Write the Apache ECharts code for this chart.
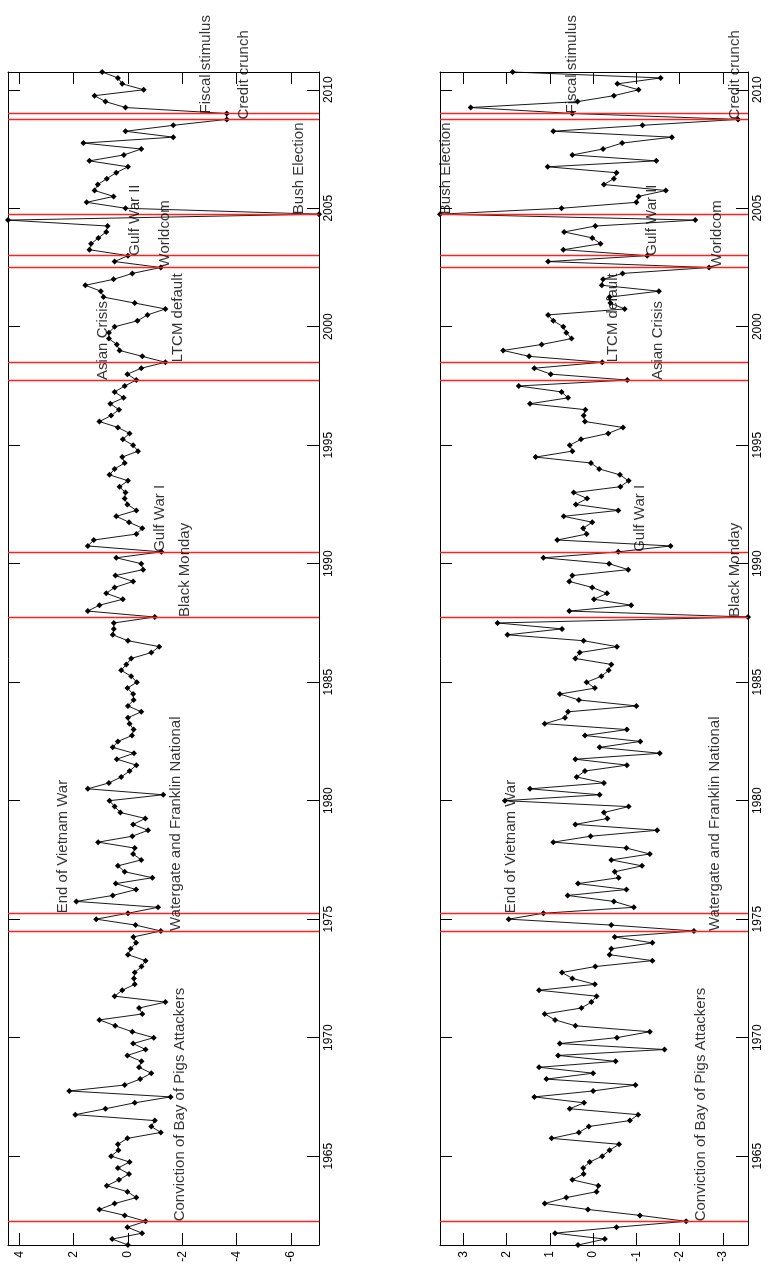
<!DOCTYPE html>
<html>
<head>
<meta charset="utf-8">
<script src="https://cdn.jsdelivr.net/npm/echarts@6/dist/echarts.min.js"></script>
<style>
  html, body { margin: 0; padding: 0; background: #fff; }
  #main { width: 771px; height: 1268px; }
</style>
</head>
<body>
<div id="main"></div>
<script>
// quarterly observations, first one is 1961 Q2
const firstQuarter = 1961.25
const quarterStep = 0.25

// top panel of the original (left here)
const upperValues = [
  0.0, 0.58, -0.52,
  0.02, -0.65, 0.12, 1.05,
  0.49, -0.31, 0.02, 0.78,
  0.33, -0.04, 0.37, -0.06,
  0.62, 0.35, 0.37, 0.02,
  -1.21, -0.86, -0.99, 1.94,
  0.83, -0.25, -1.57, 2.16,
  0.12, -0.45, -0.86, -0.41,
  -0.5, 0.02, -0.65, -0.19,
  -0.95, -0.16, 0.47, 1.05,
  -0.53, -0.41, -1.38, 0.49,
  0.21, -0.25, -0.22, -0.25,
  -0.5, -0.65, 0.0, -0.1,
  -0.3, -0.2, -1.21, -0.28,
  1.17, 0.0, -1.11, 1.9,
  0.56, -0.3, 0.45, -0.9,
  0.12, 0.37, -0.49, -0.19,
  -0.25, 1.1, -0.16, -0.74,
  -0.19, -0.64, 0.28, 0.49,
  0.68, -1.3, 1.48, 0.7,
  0.25, -0.06, -0.31, 0.41,
  -0.22, 0.56, 0.37, -0.15,
  -0.21, -0.06, 0.0, -0.49,
  0.0, -0.21, -0.19, 0.02,
  -0.33, -0.12, 0.25, 0.06,
  -0.12, -0.86, -1.15, 0.0,
  0.56, 0.52, 0.52, -0.99,
  1.48, 1.05, 0.19, 0.8,
  0.49, -0.19, 0.46, -0.56,
  -0.49, 0.43, -1.23, 1.48,
  1.26, -0.31, -0.53, -0.04,
  0.43, -0.31, 0.02, 0.12,
  0.09, 0.31, 0.0, 0.68,
  0.49, 0.12, 0.21, -0.37,
  -0.19, 0.19, -0.06, 0.37,
  1.05, 0.62, 0.33, 0.65,
  0.16, 0.49, 0.12, -0.31,
  0.02, -0.49, -1.38, -0.53,
  0.31, 0.41, 0.7, 0.7,
  0.49, -0.35, -0.72, -1.38,
  -0.25, 0.9, 1.0, 1.57,
  0.53, -0.16, -1.21, 0.49,
  0.0, 1.42, 1.36, 1.09,
  0.8, 0.75, 4.42, -7.04,
  0.09, 1.52, 0.53, 1.23,
  1.11, 0.78, 0.43, 0.0,
  1.42, 0.15, -0.49, 1.64,
  -1.67, 0.09, -1.67, -3.64,
  -3.64, 0.09, 0.83, 1.23,
  -0.58, 0.21, 0.37, 0.95
]

// bottom panel of the original (right here)
const lowerValues = [
  0.35, -0.27, 0.88,
  -0.54, -2.15, -1.08, 0.12,
  1.12, 0.62, -0.08, -0.12,
  0.48, 0.22, 0.23, 0.08,
  -0.21, -0.38, -0.6, 0.96,
  0.33, 0.1, -0.85, -1.04,
  0.54, 0.21, 1.36, 0.0,
  -0.98, 1.08, 0.0, 1.25,
  -0.52, 0.81, -1.65, 0.77,
  -0.55, -1.31, 0.41, 0.88,
  1.12, 0.27, 0.04, -0.08,
  1.25, -0.04, 0.48, 0.72,
  -0.05, -1.37, -0.38, -0.42,
  -1.37, -0.5, -2.33, -0.42,
  1.95, 1.15, -0.94, -0.48,
  0.59, -0.77, 0.35, -0.59,
  -0.5, -1.13, -0.42, -1.31,
  -0.77, 0.92, 0.06, -1.48,
  0.41, -0.33, -0.25, -0.82,
  2.04, -0.15, 1.46, -0.25,
  0.38, 0.19, -0.78, 0.41,
  -1.54, -0.15, -1.09, 0.19,
  -0.78, 1.12, 0.65, 0.58,
  -1.0, 0.33, 0.77, -0.04,
  0.15, -0.19, -0.36, -0.42,
  0.41, 0.31, -0.55, 0.22,
  1.98, 0.72, 2.21, -3.58,
  0.55, -0.88, -0.02, -0.32,
  0.02, 0.55, 0.48, -0.81,
  -0.37, 1.15, -0.58, -1.79,
  0.83, 0.15, 0.23, 0.02,
  0.68, -0.58, 0.4, 0.14,
  0.45, -0.63, -0.82, -0.62,
  -0.14, 0.05, 1.33, 0.48,
  0.54, 0.28, -0.35, -0.69,
  0.19, 0.22, 0.18, 1.46,
  0.58, 0.73, 1.72, -0.79,
  0.98, 1.36, -0.21, 1.48,
  2.08, 1.19, 0.5, 0.62,
  0.69, 0.92, 1.04, -0.73,
  -0.4, -0.38, -1.52, -0.2,
  -0.23, -0.68, -2.68, 1.04,
  -1.25, 0.69, -0.17, 0.02,
  0.67, -0.05, -2.36, 3.54,
  0.73, -1.0, -1.05, -1.68,
  -0.25, -0.48, -0.54, 1.05,
  -1.46, 0.48, -0.23, -0.67,
  -1.82, 0.92, -1.14, -3.35,
  0.48, 2.83, 0.36, -0.48,
  -1.05, -0.56, -1.56, 1.86
]

const eventNames = [
  'Conviction of Bay of Pigs Attackers', 'Watergate and Franklin National', 'End of Vietnam War',
  'Black Monday', 'Gulf War I', 'Asian Crisis', 'LTCM default', 'Worldcom', 'Gulf War II',
  'Bush Election', 'Credit crunch', 'Fiscal stimulus'
]
const eventYears = [1962.25, 1974.5, 1975.25, 1987.75, 1990.5, 1997.75, 1998.5, 2002.5, 2003.0, 2004.75, 2008.75, 2009.0]
// where each text sits across the value axis
const upperLabelAt = [-1.92, -1.77, 2.41, -2.1, -1.18, 0.93, -1.85, -1.36, -0.25, -6.29, -4.26, -2.87]
const lowerLabelAt = [-2.5, -2.81, 1.9, -3.27, -1.08, -1.5, -0.45, -2.85, -1.35, 3.4, -3.27, 0.5]

const yearTicks = [1965, 1970, 1975, 1980, 1985, 1990, 1995, 2000, 2005, 2010]
const upperTicks = [-6, -4, -2, 0, 2, 4]
const lowerTicks = [-3, -2, -1, 0, 1, 2, 3]

const font = "'Liberation Sans', Arial, sans-serif"
const lastQuarter = firstQuarter + quarterStep * (upperValues.length - 1)

function pairs(values) {
  return values.map((v, i) => [v, firstQuarter + i * quarterStep])
}

function valueAxes(grid, ticks, values) {
  const base = {
    gridIndex: grid,
    type: 'value',
    inverse: true,
    min: Math.min(...values),
    max: Math.max(...values),
    splitLine: { show: false },
    axisLine: { onZero: false, lineStyle: { color: '#000', width: 1 } },
    axisTick: { inside: true, length: 12, customValues: ticks, lineStyle: { color: '#000' } },
  }
  return [
    Object.assign({}, base, {
      position: 'bottom',
      axisLabel: {
        customValues: ticks, rotate: 90, color: '#000', fontSize: 12, fontFamily: font, margin: 6,
        formatter: v => String(v),
      },
    }),
    Object.assign({}, base, { position: 'top', axisLabel: { show: false } }),
  ]
}

function yearAxes(grid) {
  const base = {
    gridIndex: grid,
    type: 'value',
    min: firstQuarter,
    max: lastQuarter,
    splitLine: { show: false },
    axisLine: { onZero: false, lineStyle: { color: '#000', width: 1 } },
    axisTick: { inside: true, length: 12, customValues: yearTicks, lineStyle: { color: '#000' } },
  }
  return [
    Object.assign({}, base, { position: 'left', axisLabel: { show: false } }),
    Object.assign({}, base, {
      position: 'right',
      axisLabel: {
        customValues: yearTicks, rotate: 90, color: '#000', fontSize: 12, fontFamily: font, margin: 4,
        formatter: v => String(v),
      },
    }),
  ]
}

function lineSeries(idx, values) {
  return {
    type: 'line',
    xAxisIndex: idx * 2,
    yAxisIndex: idx * 2,
    data: pairs(values),
    symbol: 'diamond',
    symbolSize: 6,
    clip: false,
    lineStyle: { color: '#000', width: 0.9 },
    itemStyle: { color: '#000' },
    markLine: {
      silent: true,
      symbol: ['none', 'none'],
      label: { show: false },
      lineStyle: { color: '#ff2020', type: 'solid', width: 1.3 },
      data: eventYears.map(y => ({ yAxis: y })),
    },
    z: 3,
  }
}

function labelSeries(idx, at) {
  return {
    type: 'scatter',
    xAxisIndex: idx * 2,
    yAxisIndex: idx * 2,
    symbolSize: 1,
    clip: false,
    silent: true,
    itemStyle: { color: 'rgba(0,0,0,0)' },
    data: eventNames.map((name, i) => ({ value: [at[i], eventYears[i]], name })),
    label: {
      show: true,
      position: 'inside',
      formatter: p => p.name,
      rotate: 90,
      align: 'left',
      verticalAlign: 'middle',
      color: '#000',
      fontSize: 15,
      fontFamily: font,
    },
    labelLayout: { hideOverlap: false },
    z: 5,
  }
}

const chart = echarts.init(document.getElementById('main'))
chart.setOption({
  backgroundColor: '#fff',
  animation: false,
  grid: [
    { left: 8, top: 72, width: 311, height: 1173 },
    { left: 440, top: 72, width: 308, height: 1173 },
  ],
  xAxis: [...valueAxes(0, upperTicks, upperValues), ...valueAxes(1, lowerTicks, lowerValues)],
  yAxis: [...yearAxes(0), ...yearAxes(1)],
  series: [
    lineSeries(0, upperValues),
    labelSeries(0, upperLabelAt),
    lineSeries(1, lowerValues),
    labelSeries(1, lowerLabelAt),
  ],
})
</script>
</body>
</html>
